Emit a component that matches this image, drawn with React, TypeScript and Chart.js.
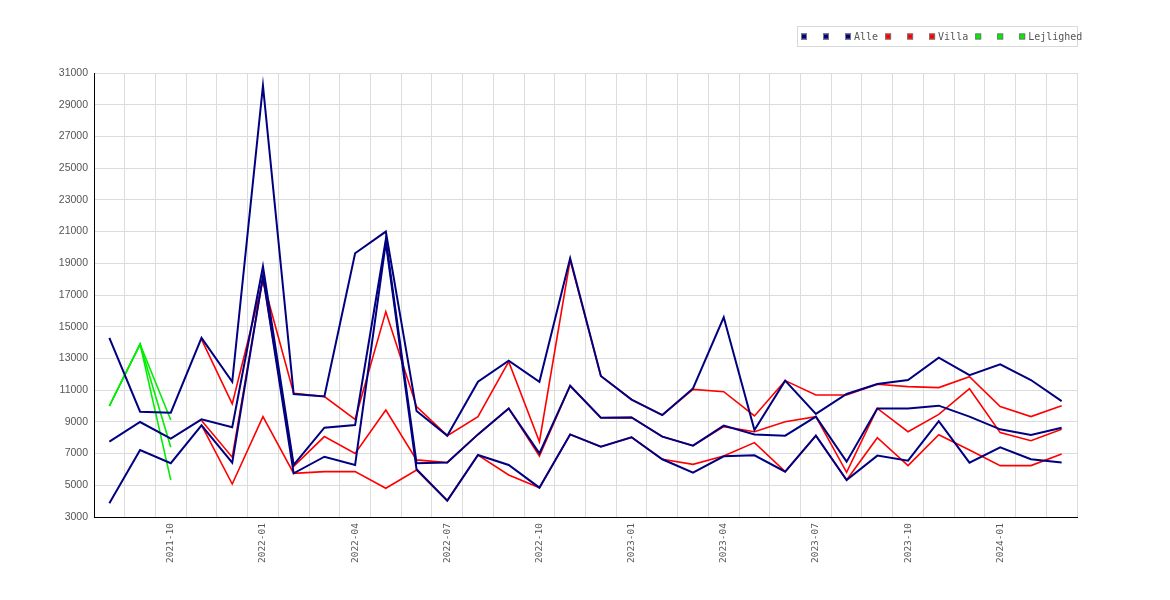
import React, { useEffect, useRef } from 'react';
import { Chart, registerables } from 'chart.js';

Chart.register(...registerables);

const months = [
  '2021-08', '2021-09', '2021-10', '2021-11', '2021-12', '2022-01', '2022-02', '2022-03',
  '2022-04', '2022-05', '2022-06', '2022-07', '2022-08', '2022-09', '2022-10', '2022-11',
  '2022-12', '2023-01', '2023-02', '2023-03', '2023-04', '2023-05', '2023-06', '2023-07',
  '2023-08', '2023-09', '2023-10', '2023-11', '2023-12', '2024-01', '2024-02', '2024-03',
];

const alleHigh = [
  14300, 9640, 9580, 14300, 11530, 30200, 10750, 10600,
  19630, 21000, 9680, 8130, 11530, 12860, 11530, 19310,
  11890, 10400, 9430, 11110, 15590, 8490, 11600, 9500,
  10760, 11390, 11640, 13050, 11950, 12630, 11640, 10310,
];
const alleMid = [
  7750, 8990, 7940, 9160, 8660, 18800, 6280, 8630,
  8800, 20500, 6390, 6430, 8210, 9850, 7010, 11280,
  9260, 9280, 8070, 7500, 8760, 8210, 8130, 9330,
  6490, 9850, 9850, 10020, 9330, 8530, 8170, 8630,
];
const alleLow = [
  3860, 7225, 6390, 8780, 6430, 18200, 5755, 6800,
  6280, 20300, 6010, 4030, 6910, 6280, 4850, 8210,
  7430, 8030, 6640, 5800, 6830, 6890, 5860, 8130,
  5330, 6870, 6550, 9050, 6430, 7390, 6640, 6430,
];

const villaHigh = [
  null, null, null, 14200, 10130, 17900, 10800, 10600,
  9160, 15950, 9960, 8130, 9330, 12800, 7750, 19200,
  11890, 10400, 9430, 11050, 10900, 9370, 11600, 10690,
  10690, 11370, 11220, 11160, 11850, 9960, 9330, 10020,
];
const villaMid = [
  null, null, null, 9080, 6770, 18100, 6200, 8070,
  7000, 9750, 6600, 6430, 8210, 9850, 6850, 11280,
  9260, 9280, 8070, 7500, 8700, 8380, 9010, 9330,
  5820, 9850, 8380, 9470, 11090, 8320, 7810, 8530,
];
const villaLow = [
  null, null, null, 8800, 5080, 9330, 5755, 5860,
  5860, 4810, 5960, 4030, 6910, 5650, 4850, 8210,
  7430, 8030, 6640, 6320, 6850, 7690, 5860, 8130,
  5330, 8000, 6240, 8190, 7230, 6240, 6240, 6970,
];

const lejlHigh = [10000, 13900, 9120, ...Array(29).fill(null)];
const lejlMid = [10000, 13900, 7395, ...Array(29).fill(null)];
const lejlLow = [10000, 13900, 5330, ...Array(29).fill(null)];

const NAVY = '#000080';
const RED = '#ff0000';
const GREEN = '#00ee00';

const boxLegend = {
  id: 'boxLegend',
  afterDraw(chart: any) {
    const ctx = chart.ctx;
    const right = chart.chartArea.right;
    const w = 280;
    const left = right - w;
    const top = 18;
    const h = 20;
    ctx.save();
    ctx.strokeStyle = '#d9d9d9';
    ctx.lineWidth = 1;
    ctx.strokeRect(left + 0.5, top + 0.5, w, h);
    ctx.font = '10px "DejaVu Sans Mono"';
    ctx.textBaseline = 'middle';
    ctx.textAlign = 'left';
    let x = left + 4;
    const cy = top + h / 2 + 0.5;
    chart.data.datasets.forEach((ds: any) => {
      ctx.fillStyle = ds.borderColor;
      ctx.fillRect(x, cy - 3, 6, 6);
      ctx.strokeStyle = '#777';
      ctx.strokeRect(x + 0.5, cy - 2.5, 5, 5);
      x += 6;
      if (ds.label) {
        ctx.fillStyle = '#555';
        ctx.fillText(ds.label, x + 3, cy + 0.5);
        x += 3 + ctx.measureText(ds.label).width + 7;
      } else {
        x += 16;
      }
    });
    ctx.restore();
  },
};

export default function App() {
  const ref = useRef<HTMLCanvasElement>(null);

  useEffect(() => {
    if (!ref.current) return;
    const mk = (label: string, data: (number | null)[], color: string, width: number) => ({
      label,
      data,
      borderColor: color,
      backgroundColor: color,
      borderWidth: width,
      pointRadius: 0,
      pointHoverRadius: 0,
      tension: 0,
      fill: false,
      spanGaps: false,
    });
    const chart = new Chart(ref.current, {
      type: 'line',
      data: {
        labels: months,
        datasets: [
          mk('', alleHigh, NAVY, 2),
          mk('', alleMid, NAVY, 2),
          mk('Alle', alleLow, NAVY, 2),
          mk('', villaHigh, RED, 1.6),
          mk('', villaMid, RED, 1.6),
          mk('Villa', villaLow, RED, 1.6),
          mk('', lejlHigh, GREEN, 1.6),
          mk('', lejlMid, GREEN, 1.6),
          mk('Lejlighed', lejlLow, GREEN, 1.6),
        ],
      },
      options: {
        animation: false,
        responsive: false,
        maintainAspectRatio: false,
        layout: { padding: { left: 0, right: 85, top: 65, bottom: 0 } },
        plugins: {
          legend: { display: false },
          tooltip: { enabled: false },
        },
        scales: {
          x: {
            type: 'category',
            offset: true,
            grid: { offset: true, color: '#dcdcdc', lineWidth: 1, drawTicks: false },
            border: { color: '#000', width: 1 },
            ticks: {
              autoSkip: false,
              maxRotation: 90,
              minRotation: 90,
              padding: 6,
              color: '#555',
              font: { family: '"DejaVu Sans Mono"', size: 9.5 },
              callback: (_v: any, i: number) => (i % 3 === 2 ? months[i] : ''),
            },
            afterFit: (s: any) => {
              s.height = 75;
            },
          },
          y: {
            min: 3000,
            max: 31000,
            grid: { color: '#dcdcdc', lineWidth: 1, drawTicks: false },
            border: { color: '#000', width: 1 },
            ticks: {
              stepSize: 2000,
              padding: 6,
              color: '#555',
              font: { family: '"Liberation Sans"', size: 10.5 },
              callback: (v: any) => String(v),
            },
            afterFit: (s: any) => {
              s.width = 86;
            },
          },
        },
      },
      plugins: [boxLegend],
    });
    return () => chart.destroy();
  }, []);

  return (
    <div style={{ width: 1154, height: 584 }}>
      <canvas ref={ref} width={1154} height={584} style={{ width: 1154, height: 584, display: 'block' }} />
    </div>
  );
}
